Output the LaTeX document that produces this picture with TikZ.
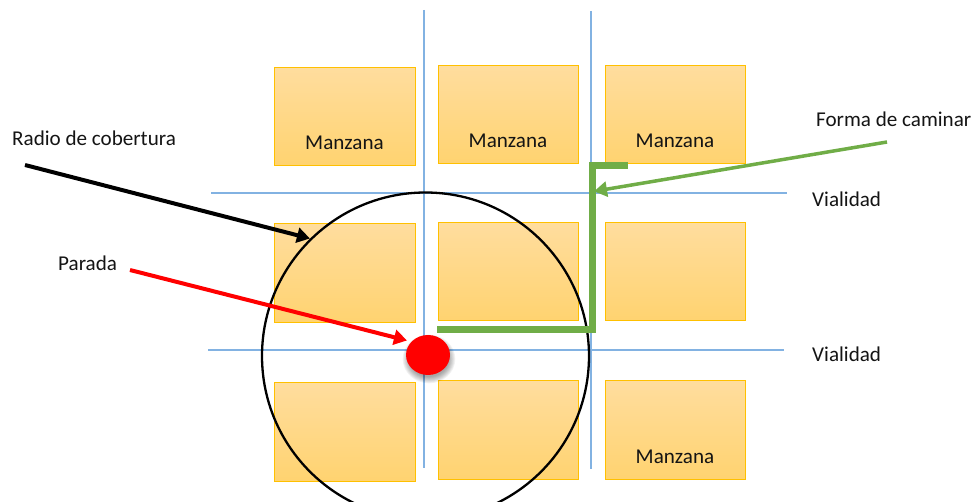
\documentclass[tikz,border=0pt]{standalone}
\usepackage{fontspec}
\setmainfont{Carlito}
\usetikzlibrary{arrows.meta,shapes.geometric}
\definecolor{blocktop}{RGB}{255,221,158}
\definecolor{blockbot}{RGB}{255,211,112}
\definecolor{blockedge}{RGB}{255,192,0}
\definecolor{street}{RGB}{130,178,226}
\definecolor{walk}{RGB}{112,173,71}
\definecolor{stopred}{RGB}{255,0,0}
\tikzset{
  block/.style={rectangle, draw=blockedge, line width=1.3pt, top color=blocktop, bottom color=blockbot, anchor=north west, inner sep=0pt},
  lbl/.style={inner sep=0pt, font=\fontsize{21.1}{25}\selectfont, text=black!92},
  streetline/.style={draw=street, line width=1.3pt},
  pointer/.style={line width=4pt, -{Triangle[length=13pt,width=15pt]}, shorten >=-2pt},
}
\begin{document}
\begin{tikzpicture}[x=1pt,y=-1pt]
\useasboundingbox (0,0) rectangle (975,502);
% streets
\coordinate (v1t) at (424,10); \coordinate (v1b) at (424,468);
\coordinate (v2t) at (591,11); \coordinate (v2b) at (591,469);
\coordinate (h1l) at (211,193); \coordinate (h1r) at (787,193);
\coordinate (h2l) at (208,350); \coordinate (h2r) at (784,350);
\draw[streetline] (v1t) -- (v1b);
\draw[streetline] (v2t) -- (v2b);
\draw[streetline] (h1l) -- (h1r);
\draw[streetline] (h2l) -- (h2r);
% blocks
\node[block, minimum width=141pt, minimum height=98pt] (b11) at (274,67) {};
\node[block, minimum width=140pt, minimum height=98pt] (b12) at (438,65) {};
\node[block, minimum width=140pt, minimum height=98pt] (b13) at (605,65) {};
\node[block, minimum width=141pt, minimum height=99pt] (b21) at (274,223) {};
\node[block, minimum width=140pt, minimum height=98pt] (b22) at (438,222) {};
\node[block, minimum width=140pt, minimum height=98pt] (b23) at (605,222) {};
\node[block, minimum width=141pt, minimum height=99pt] (b31) at (274,382) {};
\node[block, minimum width=140pt, minimum height=99pt] (b32) at (438,380) {};
\node[block, minimum width=140pt, minimum height=99pt] (b33) at (605,380) {};
% block labels
\node[lbl, anchor=base] (m11) at (344.5,150) {Manzana};
\node[lbl, anchor=base] (m12) at (508,148) {Manzana};
\node[lbl, anchor=base] (m13) at (675,148) {Manzana};
\node[lbl, anchor=base] (m33) at (675,464) {Manzana};
% coverage circle
\node[circle, draw=black, line width=2.3pt, minimum size=327pt, inner sep=0pt] (radio) at (425.5,356) {};
% walking path
\coordinate (w1) at (437,329.5);
\coordinate (w2) at (592,329.5);
\coordinate (w3) at (592,165.5);
\coordinate (w4) at (628,165.5);
\draw[walk, line width=7pt] (w1) -- (w2) -- (w3) -- (w4);
% stop with shadow
\foreach \i in {0,...,7}{
  \fill[black, opacity=0.05] (429,359) ellipse ({20+\i*0.9} and {18+\i*0.9});
}
\node[ellipse, fill=stopred, minimum width=44pt, minimum height=40pt, inner sep=0pt] (parada) at (428,355) {};
% texts
\node[lbl, anchor=base west] (tradio) at (12,146) {Radio de cobertura};
\node[lbl, anchor=base west] (tparada) at (58,271) {Parada};
\node[lbl, anchor=base west] (tforma) at (816,127) {Forma de caminar};
\node[lbl, anchor=base west] (tvia1) at (812,207) {Vialidad};
\node[lbl, anchor=base west] (tvia2) at (812,362) {Vialidad};
% pointers
\coordinate (ra) at (25,165); \coordinate (rb) at (308,238);
\coordinate (pa) at (130,270); \coordinate (pb) at (405,340);
\coordinate (fa) at (887,142); \coordinate (fb) at (596,191);
\draw[pointer, draw=black, fill=black] (ra) -- (rb);
\draw[pointer, draw=stopred, fill=stopred] (pa) -- (pb);
\draw[pointer, draw=walk, fill=walk, line width=3.5pt] (fa) -- (fb);
\end{tikzpicture}
\end{document}
